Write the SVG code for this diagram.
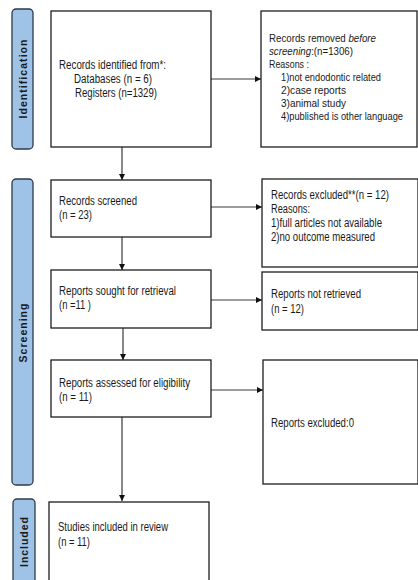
<svg xmlns="http://www.w3.org/2000/svg" width="418" height="580" viewBox="0 0 418 580">
<style>
.bg{fill:#ffffff}
.box{fill:#ffffff;stroke:#1e1e1e;stroke-width:1.3}
.side{fill:#9fc3e7;stroke:#2f3a48;stroke-width:1.3}
.t{font-family:"Liberation Sans",Arial,sans-serif;font-size:12px;fill:#1a1a1a}
.r{font-size:11px}
.sm{font-size:10px}
.i{font-style:italic}
.s{font-family:"Liberation Sans",Arial,sans-serif;font-size:10.5px;font-weight:bold;fill:#1a1a1a;text-anchor:middle}
.c{stroke:#3a3a3a;stroke-width:1.2;fill:none}
</style>
<defs>
<marker id="ah" viewBox="0 0 10 10" refX="10" refY="5" markerWidth="6.5" markerHeight="6.5" markerUnits="userSpaceOnUse" orient="auto">
<path d="M0,0 L10,5 L0,10 z" fill="#111"/>
</marker>
</defs>
<rect class="bg" x="0" y="0" width="418" height="580"/>

<g id="side-identification">
<rect class="side" x="12" y="9" width="21" height="140" rx="4"/>
<text class="s" transform="translate(26.5,79) rotate(-90)" textLength="79" lengthAdjust="spacing">Identification</text>
</g>
<g id="side-screening">
<rect class="side" x="12" y="179" width="21" height="306" rx="4"/>
<text class="s" transform="translate(26.5,333) rotate(-90)" textLength="59" lengthAdjust="spacing">Screening</text>
</g>
<g id="side-included">
<rect class="side" x="13" y="499" width="22" height="90" rx="4"/>
<text class="s" transform="translate(28,542) rotate(-90)" textLength="50" lengthAdjust="spacing">Included</text>
</g>

<g id="connectors">
<line class="c" x1="122" y1="147" x2="122" y2="180" marker-end="url(#ah)"/>
<line class="c" x1="122" y1="237" x2="122" y2="270" marker-end="url(#ah)"/>
<line class="c" x1="123" y1="328" x2="123" y2="360" marker-end="url(#ah)"/>
<line class="c" x1="122" y1="417" x2="122" y2="501" marker-end="url(#ah)"/>
<line class="c" x1="211" y1="79" x2="261" y2="79" marker-end="url(#ah)"/>
<line class="c" x1="211" y1="207" x2="262" y2="207" marker-end="url(#ah)"/>
<line class="c" x1="211" y1="300" x2="262" y2="300" marker-end="url(#ah)"/>
<line class="c" x1="211" y1="390" x2="263" y2="390" marker-end="url(#ah)"/>
</g>

<g id="records-identified">
<rect class="box" x="51" y="11" width="160" height="136"/>
<text class="t" x="59" y="69" textLength="107" lengthAdjust="spacingAndGlyphs">Records identified from*:</text>
<text class="t" x="74" y="83" textLength="78" lengthAdjust="spacingAndGlyphs">Databases (n = 6)</text>
<text class="t" x="75" y="97" textLength="82" lengthAdjust="spacingAndGlyphs">Registers (n=1329)</text>
</g>

<g id="records-removed">
<rect class="box" x="261" y="11" width="156" height="136"/>
<text class="t r" x="269" y="42" textLength="107" lengthAdjust="spacingAndGlyphs">Records removed <tspan class="i">before</tspan></text>
<text class="t r" x="269" y="55" textLength="84" lengthAdjust="spacingAndGlyphs"><tspan class="i">screening</tspan>:(n=1306)</text>
<text class="t r" x="269" y="68" textLength="40" lengthAdjust="spacingAndGlyphs">Reasons :</text>
<text class="t r" x="281" y="81" textLength="100" lengthAdjust="spacingAndGlyphs">1)not endodontic related</text>
<text class="t r" x="281" y="94" textLength="65" lengthAdjust="spacingAndGlyphs">2)case reports</text>
<text class="t r" x="281" y="107" textLength="65" lengthAdjust="spacingAndGlyphs">3)animal study</text>
<text class="t sm" x="281" y="120" textLength="122" lengthAdjust="spacingAndGlyphs">4)published is other language</text>
</g>

<g id="records-screened">
<rect class="box" x="51" y="180" width="160" height="57"/>
<text class="t" x="59" y="205" textLength="78" lengthAdjust="spacingAndGlyphs">Records screened</text>
<text class="t" x="59" y="219" textLength="33" lengthAdjust="spacingAndGlyphs">(n = 23)</text>
</g>

<g id="records-excluded">
<rect class="box" x="262" y="179" width="156" height="88"/>
<text class="t" x="271" y="199" textLength="118" lengthAdjust="spacingAndGlyphs">Records excluded**(n = 12)</text>
<text class="t" x="271" y="213" textLength="39" lengthAdjust="spacingAndGlyphs">Reasons:</text>
<text class="t" x="271" y="227" textLength="111" lengthAdjust="spacingAndGlyphs">1)full articles not available</text>
<text class="t" x="271" y="241" textLength="104" lengthAdjust="spacingAndGlyphs">2)no outcome measured</text>
</g>

<g id="reports-sought">
<rect class="box" x="51" y="270" width="160" height="58"/>
<text class="t" x="59" y="295" textLength="117" lengthAdjust="spacingAndGlyphs">Reports sought for retrieval</text>
<text class="t" x="59" y="309" textLength="32" lengthAdjust="spacingAndGlyphs">(n =11 )</text>
</g>

<g id="reports-not-retrieved">
<rect class="box" x="262" y="272" width="156" height="58"/>
<text class="t" x="271" y="298" textLength="90" lengthAdjust="spacingAndGlyphs">Reports not retrieved</text>
<text class="t" x="271" y="313" textLength="33" lengthAdjust="spacingAndGlyphs">(n = 12)</text>
</g>

<g id="reports-assessed">
<rect class="box" x="51" y="360" width="160" height="57"/>
<text class="t" x="59" y="387" textLength="131" lengthAdjust="spacingAndGlyphs">Reports assessed for eligibility</text>
<text class="t" x="59" y="401" textLength="33" lengthAdjust="spacingAndGlyphs">(n = 11)</text>
</g>

<g id="reports-excluded">
<rect class="box" x="263" y="360" width="155" height="124"/>
<text class="t" x="271" y="427" textLength="83" lengthAdjust="spacingAndGlyphs">Reports excluded:0</text>
</g>

<g id="studies-included">
<rect class="box" x="49" y="502" width="160" height="90"/>
<text class="t" x="58" y="531" textLength="110" lengthAdjust="spacingAndGlyphs">Studies included in review</text>
<text class="t" x="58" y="546" textLength="32" lengthAdjust="spacingAndGlyphs">(n = 11)</text>
</g>
</svg>
